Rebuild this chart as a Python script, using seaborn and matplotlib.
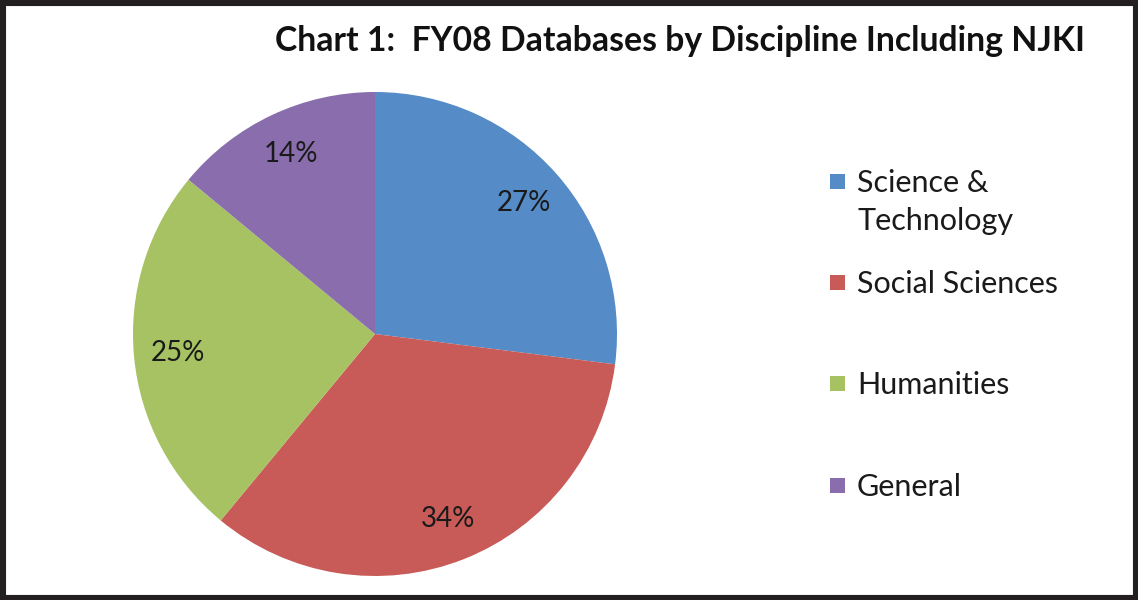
import matplotlib
matplotlib.use("Agg")
import matplotlib.pyplot as plt
import seaborn as sns
from matplotlib.patches import Rectangle

# Data
categories = ["Science &\nTechnology", "Social Sciences", "Humanities", "General"]
shares = [27, 34, 25, 14]
colors = ["#558BC6", "#C85B58", "#A6C263", "#8A6DAC"]
title = "Chart 1:  FY08 Databases by Discipline Including NJKI"

sns.set_theme(style="white")
plt.rcParams["font.family"] = ["Lato", "DejaVu Sans"]

W, H = 1138, 600
fig = plt.figure(figsize=(W / 100, H / 100), dpi=100)
fig.patch.set_facecolor("white")

# pie axes: centre (375, 334), radius 242 px
cx, cy, r = 375, 334, 242
ax = fig.add_axes([(cx - r) / W, (H - cy - r) / H, 2 * r / W, 2 * r / H])
wedges, texts, autotexts = ax.pie(
    shares,
    colors=sns.color_palette(colors),
    startangle=90,
    counterclock=False,
    radius=1,
    autopct="%d%%",
    pctdistance=0.82,
    textprops={"fontsize": 20, "color": "#1a1a1a"},
    wedgeprops={"linewidth": 0},
)
ax.set_xlim(-1, 1)
ax.set_ylim(-1, 1)
ax.set_aspect("equal")
ax.axis("off")

# title
fig.text(1085 / W, 1 - 51 / H, title, ha="right", va="baseline",
         fontsize=24.3, fontweight="bold", color="#111111")

# legend drawn by hand (Excel-style spacing), marker level with first line
baselines = [192, 293, 394, 496]
line_h = 38
for lab, col, yb in zip(categories, colors, baselines):
    fig.patches.append(Rectangle((830 / W, 1 - (yb - 3) / H), 15 / W, 15 / H,
                                 transform=fig.transFigure, facecolor=col,
                                 edgecolor="none"))
    for k, line in enumerate(lab.split("\n")):
        fig.text(857 / W, 1 - (yb + k * line_h) / H, line, ha="left",
                 va="baseline", fontsize=22, color="#1a1a1a")

# outer frame
fig.patches.append(Rectangle((0, 0), 1, 1, transform=fig.transFigure,
                             fill=False, edgecolor="#231f20", linewidth=8))

fig.savefig("out.png", dpi=100)
